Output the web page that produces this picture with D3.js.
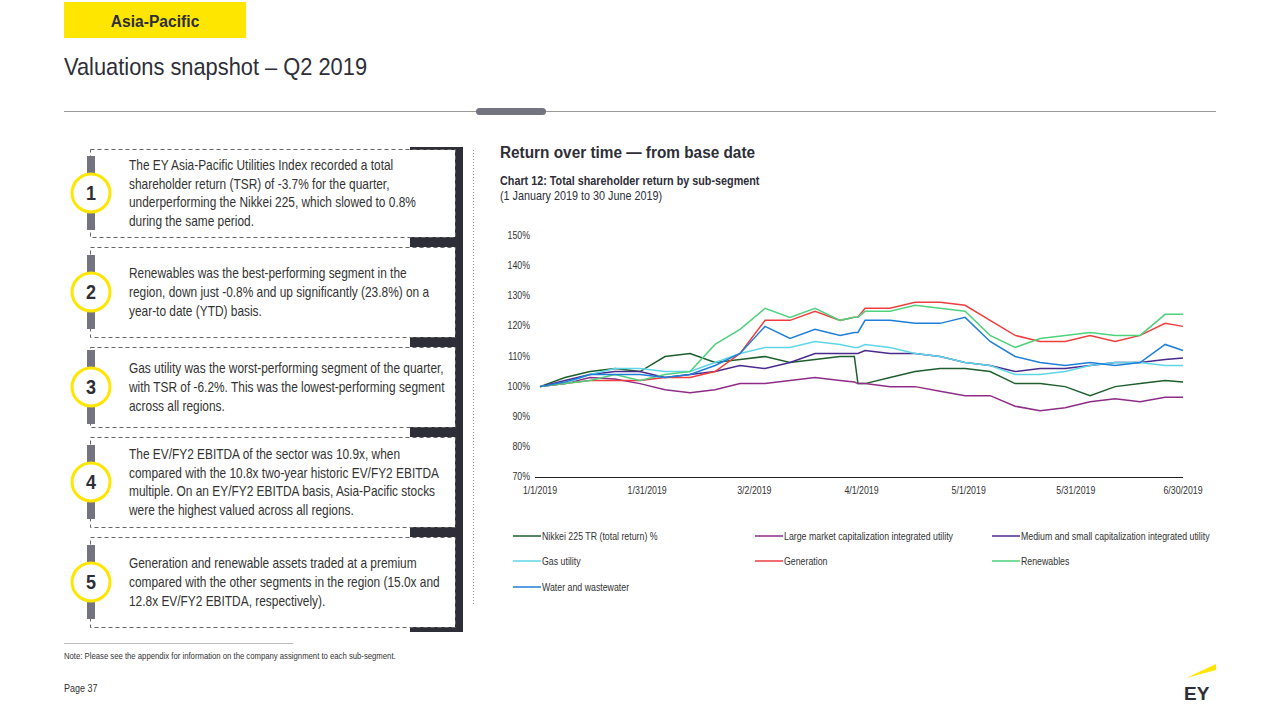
<!DOCTYPE html>
<html>
<head>
<meta charset="utf-8">
<script src="https://cdn.jsdelivr.net/npm/d3@7"></script>
<style>
  body { margin: 0; background: #fff; }
  svg { font-family: "Liberation Sans", Arial, sans-serif; }
</style>
</head>
<body>
<svg id="slide" width="1280" height="720"></svg>
<script>
'use strict';

// days since 1 January 2019, roughly one point per week
const days = [0, 7, 14, 21, 28, 35, 42, 49, 56, 63, 70, 77, 84, 88, 89, 91, 98, 105, 112, 119, 126, 133, 140, 147, 154, 161, 168, 175, 180];

const nikkei      = [100, 103, 105, 106, 105, 110, 111, 108, 109, 110, 108, 109, 110, 110, 101, 101, 103, 105, 106, 106, 105, 101, 101, 100, 97, 100, 101, 102, 101.5];
const largeCap    = [100, 101, 103, 102.5, 101, 99, 98, 99, 101, 101, 102, 103, 102, 101.5, 101, 101, 100, 100, 98.5, 97, 97, 93.5, 92, 93, 95, 96, 95, 96.5, 96.5];
const mediumSmall = [100, 102, 104, 105, 105, 103, 104, 105, 107, 106, 108, 111, 111, 111, 111, 112, 111, 111, 110, 108, 107, 105, 106, 106, 107, 108, 108, 109, 109.5];
const gasUtility  = [100, 101, 104, 106, 106, 105, 105, 108, 111, 113, 113, 115, 114, 113, 113, 114, 113, 111, 110, 108, 107, 104, 104, 105, 107, 108, 108, 107, 107];
const generation  = [100, 101, 102, 102, 102, 103, 103, 105, 111, 122, 122, 125, 122, 123, 123, 126, 126, 128, 128, 127, 122, 117, 115, 115, 117, 115, 117, 121, 120];
const renewables  = [100, 101, 102, 104, 102, 104, 105, 114, 119, 126, 123, 126, 122, 123, 123, 125, 125, 127, 126, 125, 117, 113, 116, 117, 118, 117, 117, 124, 124];
const water       = [100, 101.5, 104, 104, 104, 103, 104, 107, 111, 120, 116, 119, 117, 118, 118, 122, 122, 121, 121, 123, 115, 110, 108, 107, 108, 107, 108, 114, 112];

const seriesNames = [
  "Nikkei 225 TR (total return) %",
  "Large market capitalization integrated utility",
  "Medium and small capitalization integrated utility",
  "Gas utility",
  "Generation",
  "Renewables",
  "Water and wastewater"
];
const seriesValues = [nikkei, largeCap, mediumSmall, gasUtility, generation, renewables, water];
const seriesColors = ["#1e5e2c", "#8e2c87", "#4a2a8c", "#5fd6e8", "#ee3e3e", "#4fd27d", "#1f7fd8"];

const yTicks = [70, 80, 90, 100, 110, 120, 130, 140, 150];
const xTickDays = [0, 30, 60, 90, 120, 150, 180];
const xTickLabels = ["1/1/2019", "1/31/2019", "3/2/2019", "4/1/2019", "5/1/2019", "5/31/2019", "6/30/2019"];

const points = [
  ["The EY Asia-Pacific Utilities Index recorded a total", "shareholder return (TSR) of -3.7% for the quarter,", "underperforming the Nikkei 225, which slowed to 0.8%", "during the same period."],
  ["Renewables was the best-performing segment in the", "region, down just -0.8% and up significantly (23.8%) on a", "year-to date (YTD) basis."],
  ["Gas utility was the worst-performing segment of the quarter,", "with TSR of -6.2%. This was the lowest-performing segment", "across all regions."],
  ["The EV/FY2 EBITDA of the sector was 10.9x, when", "compared with the 10.8x two-year historic EV/FY2 EBITDA", "multiple. On an EY/FY2 EBITDA basis, Asia-Pacific stocks", "were the highest valued across all regions."],
  ["Generation and renewable assets traded at a premium", "compared with the other segments in the region (15.0x and", "12.8x EV/FY2 EBITDA, respectively)."]
];

const svg = d3.select("#slide");
const dark = "#2e2e38";

// the slide font is a narrow one, so squeeze text horizontally
function narrowText(parent, x, yPos, k) {
  return parent.append("text")
    .attr("transform", `translate(${x},${yPos}) scale(${k},1)`);
}

// header
svg.append("rect").attr("x", 64).attr("y", 2).attr("width", 182).attr("height", 36).attr("fill", "#ffe600");
narrowText(svg, 155, 27, 0.92).attr("text-anchor", "middle")
  .attr("font-size", 17).attr("font-weight", "bold").attr("fill", dark).text("Asia-Pacific");
narrowText(svg, 64, 75, 0.91).attr("font-size", 24).attr("fill", dark)
  .text("Valuations snapshot – Q2 2019");
svg.append("line").attr("x1", 64).attr("x2", 1216).attr("y1", 111.5).attr("y2", 111.5).attr("stroke", "#999");
svg.append("rect").attr("x", 476).attr("y", 108).attr("width", 70).attr("height", 7).attr("rx", 3.5).attr("fill", "#747480");

// left panel
const boxTops = [149, 247, 347, 437, 537];
const boxHeights = [88, 90, 80, 90, 90];
svg.append("rect").attr("x", 455).attr("y", 147).attr("width", 8).attr("height", 484).attr("fill", dark);
svg.append("rect").attr("x", 410).attr("y", 147).attr("width", 53).attr("height", 3).attr("fill", dark);
boxTops.forEach((top, i) => {
  const h = boxHeights[i];
  const g = svg.append("g");
  const nextTop = i < boxTops.length - 1 ? boxTops[i + 1] : top + h + 5;
  g.append("rect").attr("x", 410).attr("y", top + h).attr("width", 53).attr("height", nextTop - top - h).attr("fill", dark);
  g.append("rect").attr("x", 90.5).attr("y", top + 0.5).attr("width", 365).attr("height", h)
    .attr("fill", "none").attr("stroke", "#666").attr("stroke-dasharray", "4,3");
  const cy = top + h / 2;
  g.append("rect").attr("x", 87).attr("y", cy - 37).attr("width", 8).attr("height", 74).attr("fill", "#747480");
  g.append("circle").attr("cx", 91).attr("cy", cy).attr("r", 19).attr("fill", "#fff")
    .attr("stroke", "#ffe600").attr("stroke-width", 3);
  narrowText(g, 91, cy + 7, 0.9).attr("text-anchor", "middle")
    .attr("font-size", 20).attr("font-weight", "bold").attr("fill", dark).text(i + 1);
  const lines = points[i];
  const startY = -(lines.length - 1) * 19 / 2 + 5;
  narrowText(g, 129, cy, 0.85).attr("font-size", 14).attr("fill", "#333")
    .selectAll("tspan").data(lines).join("tspan")
    .attr("x", 0).attr("y", (d, j) => startY + j * 19).text(d => d);
});
svg.append("line").attr("x1", 473.5).attr("x2", 473.5).attr("y1", 150).attr("y2", 605)
  .attr("stroke", "#999").attr("stroke-dasharray", "1,2");

// chart titles
narrowText(svg, 500, 158, 0.96).attr("font-size", 16).attr("font-weight", "bold").attr("fill", dark)
  .text("Return over time — from base date");
narrowText(svg, 500, 185, 0.9).attr("font-size", 12).attr("font-weight", "bold").attr("fill", dark)
  .text("Chart 12: Total shareholder return by sub-segment");
narrowText(svg, 500, 200, 0.9).attr("font-size", 12).attr("fill", dark)
  .text("(1 January 2019 to 30 June 2019)");

// chart
const x = d3.scaleLinear().domain([0, 180]).range([540, 1183]);
const y = d3.scaleLinear().domain([70, 150]).range([477, 236]);

const chart = svg.append("g");
yTicks.forEach(d => {
  narrowText(chart, 530, y(d) + 3, 0.88).attr("text-anchor", "end").attr("font-size", 10).attr("fill", "#333")
    .text(d + "%");
});
chart.append("line").attr("x1", 535).attr("x2", 1183).attr("y1", y(70) + 0.5).attr("y2", y(70) + 0.5).attr("stroke", "#222");
xTickDays.forEach((d, i) => {
  narrowText(chart, x(d), 494, 0.88).attr("text-anchor", "middle").attr("font-size", 10).attr("fill", "#333")
    .text(xTickLabels[i]);
});

const line = d3.line().x((d, i) => x(days[i])).y(d => y(d));
chart.append("g").selectAll("path").data(seriesValues).join("path")
  .attr("d", d => line(d)).attr("fill", "none")
  .attr("stroke", (d, i) => seriesColors[i]).attr("stroke-width", 1.5);

// legend
const legendX = [513, 755, 992];
const legendY = [536, 561, 587];
seriesNames.forEach((name, i) => {
  const g = svg.append("g")
    .attr("transform", `translate(${legendX[i % 3]},${legendY[Math.floor(i / 3)]})`);
  g.append("line").attr("x1", 0).attr("x2", 28).attr("stroke", seriesColors[i]).attr("stroke-width", 1.5);
  narrowText(g, 29, 3.5, 0.88).attr("font-size", 10).attr("fill", "#333").text(name);
});

// footer
svg.append("line").attr("x1", 64).attr("x2", 293).attr("y1", 643.5).attr("y2", 643.5).attr("stroke", "#bbb");
narrowText(svg, 64, 659, 0.91).attr("font-size", 8.5).attr("fill", "#333")
  .text("Note: Please see the appendix for information on the company assignment to each sub-segment.");
narrowText(svg, 64, 692, 0.9).attr("font-size", 10).attr("fill", "#333").text("Page 37");
svg.append("path").attr("d", "M1186,678 L1216,664 L1216,670 Z").attr("fill", "#ffe600");
svg.append("text").attr("x", 1184).attr("y", 700).attr("font-size", 19).attr("font-weight", "bold")
  .attr("fill", dark).text("EY");
</script>
</body>
</html>
